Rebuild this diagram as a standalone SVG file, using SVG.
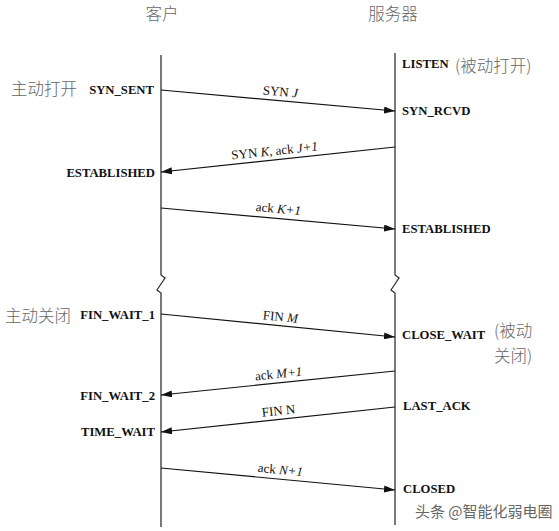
<svg xmlns="http://www.w3.org/2000/svg" width="559" height="531" viewBox="0 0 559 531">
<defs>
<marker id="ah" markerUnits="userSpaceOnUse" markerWidth="11" markerHeight="7" refX="11" refY="3.5" orient="auto">
<path d="M0,0 L11,3.5 L0,7 Z" fill="#111"/>
</marker>
<style>
.st{font-family:"Liberation Serif","DejaVu Serif",serif;font-weight:bold;font-size:12.7px;fill:#111}
.ml{font-family:"Liberation Serif","DejaVu Serif",serif;font-size:13px;fill:#111;text-anchor:middle}
.cn{font-family:"Noto Sans CJK SC",sans-serif;font-size:16.5px;fill:#666;font-weight:300}
.life{fill:none;stroke:#333;stroke-width:1.3}
.msg{stroke:#111;stroke-width:1.2;fill:none;marker-end:url(#ah)}
i{font-style:italic}
</style>
</defs>
<rect width="559" height="531" fill="#fff"/>
<g id="headers">
<text class="cn" x="162" y="20" text-anchor="middle">客户</text>
<text class="cn" x="393" y="20" text-anchor="middle">服务器</text>
</g>
<g id="client-lifeline">
<path class="life" d="M161,55 V275 L165,278 L157,290 L161,293 V527"/>
</g>
<g id="server-lifeline">
<path class="life" d="M395,53 V275 L399,278 L391,290 L395,293 V525"/>
</g>
<g id="client-states">
<text class="cn" x="11" y="95">主动打开</text>
<text class="st" x="154" y="94" text-anchor="end">SYN_SENT</text>
<text class="st" x="155" y="177" text-anchor="end">ESTABLISHED</text>
<text class="cn" x="5" y="322">主动关闭</text>
<text class="st" x="155" y="319" text-anchor="end">FIN_WAIT_1</text>
<text class="st" x="155" y="400" text-anchor="end">FIN_WAIT_2</text>
<text class="st" x="155" y="436" text-anchor="end">TIME_WAIT</text>
</g>
<g id="server-states">
<text class="st" x="402" y="68">LISTEN</text>
<text class="cn" x="455" y="72">(被动打开)</text>
<text class="st" x="402" y="115">SYN_RCVD</text>
<text class="st" x="402" y="233">ESTABLISHED</text>
<text class="st" x="402" y="339">CLOSE_WAIT</text>
<text class="cn" x="494" y="337">(被动</text>
<text class="cn" x="494" y="362">关闭)</text>
<text class="st" x="403" y="410">LAST_ACK</text>
<text class="st" x="403" y="493">CLOSED</text>
</g>
<g id="connectors">
<line class="msg" x1="161" y1="90" x2="395" y2="111"/>
<line class="msg" x1="395" y1="147" x2="161" y2="172"/>
<line class="msg" x1="161" y1="208" x2="395" y2="229"/>
<line class="msg" x1="161" y1="314" x2="395" y2="337"/>
<line class="msg" x1="395" y1="371" x2="161" y2="395"/>
<line class="msg" x1="395" y1="407" x2="161" y2="432"/>
<line class="msg" x1="161" y1="468" x2="395" y2="490"/>
</g>
<g id="message-labels">
<text class="ml" transform="translate(280,96) rotate(5.1)">SYN <tspan font-style="italic">J</tspan></text>
<text class="ml" transform="translate(275,155) rotate(-6.1)">SYN <tspan font-style="italic">K</tspan>, ack <tspan font-style="italic">J+1</tspan></text>
<text class="ml" transform="translate(278,213) rotate(5.1)">ack <tspan font-style="italic">K+1</tspan></text>
<text class="ml" transform="translate(280,321) rotate(5.6)">FIN <tspan font-style="italic">M</tspan></text>
<text class="ml" transform="translate(279,378) rotate(-5.9)">ack <tspan font-style="italic">M+1</tspan></text>
<text class="ml" transform="translate(279,415) rotate(-6.1)">FIN N</text>
<text class="ml" transform="translate(280,474) rotate(5.4)">ack <tspan font-style="italic">N+1</tspan></text>
</g>
<g id="watermark">
<text x="415" y="517" style="font-family:'Noto Sans CJK SC',sans-serif;font-size:15px;fill:#666">头条 @智能化弱电圈</text>
</g>
</svg>
